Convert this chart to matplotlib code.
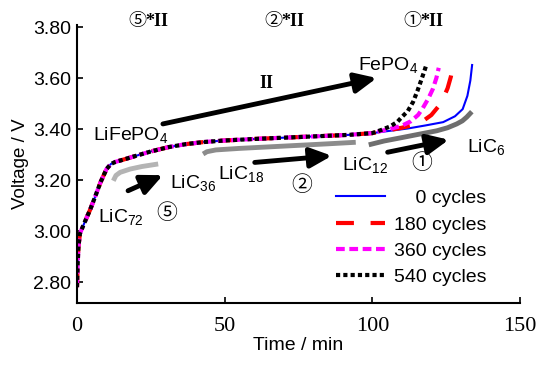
import numpy as np
import matplotlib.pyplot as plt

plt.rcParams['mathtext.fontset'] = 'custom'
plt.rcParams['mathtext.rm'] = 'Liberation Sans'
plt.rcParams['mathtext.it'] = 'Liberation Sans:italic'
plt.rcParams['mathtext.bf'] = 'Liberation Sans:bold'

# charge curves (time in min, voltage in V)
base_t = [0, 0.2, 0.5, 1, 2, 3, 4.5, 6, 8, 10, 11.5, 13, 16, 20, 25, 31, 37, 43, 50, 60, 70,
          80, 92, 100]
base_v = [2.78, 2.86, 2.94, 2.99, 3.018, 3.045, 3.085, 3.13, 3.192, 3.243, 3.263, 3.271, 3.281,
          3.295, 3.312, 3.329, 3.341, 3.349, 3.355, 3.361, 3.366, 3.371, 3.377, 3.384]

tail_t_0 = [106, 112, 118, 124, 128, 130.6, 132.2, 133.2, 133.8]
tail_v_0 = [3.393, 3.402, 3.414, 3.427, 3.45, 3.478, 3.53, 3.59, 3.651]
tail_t_180 = [104, 110, 114, 117, 120, 122.5, 124, 125.5, 126.6, 127.3]
tail_v_180 = [3.392, 3.405, 3.416, 3.43, 3.455, 3.49, 3.52, 3.56, 3.605, 3.648]
tail_t_360 = [102, 106, 110, 113, 115.5, 117, 119, 120.5, 121.7, 122.5]
tail_v_360 = [3.39, 3.40, 3.413, 3.43, 3.455, 3.48, 3.52, 3.557, 3.60, 3.64]
tail_t_540 = [103, 106, 108.5, 110, 112, 113.8, 115.3, 116.7, 117.7, 118.4]
tail_v_540 = [3.396, 3.41, 3.428, 3.447, 3.47, 3.506, 3.55, 3.596, 3.63, 3.655]

labels = ['    0 cycles', '180 cycles', '360 cycles', '540 cycles']

# grey guide curves for the graphite stages
g1_t = [12.3, 13.2, 14.6, 18, 22, 27.5]
g1_v = [3.197, 3.218, 3.230, 3.243, 3.253, 3.263]
g2_t = [42.7, 44, 47, 55, 65, 75, 85, 94.4]
g2_v = [3.302, 3.311, 3.318, 3.324, 3.330, 3.336, 3.342, 3.348]
g3_t = [98.8, 104, 110.3, 116, 121.8, 125.5, 128.6, 130.5, 132, 133.7]
g3_v = [3.338, 3.353, 3.367, 3.380, 3.393, 3.405, 3.420, 3.432, 3.447, 3.468]

# arrows: (start_t, start_v, end_t, end_v)
arrows = [(29.1, 3.420, 101.5, 3.600),
          (17.3, 3.158, 29.1, 3.219),
          (60.2, 3.269, 86.3, 3.295),
          (105.2, 3.309, 125.9, 3.358)]

sans = 'Liberation Sans'
serif = 'Liberation Serif'
circ = ['Noto Sans CJK JP', 'DejaVu Sans']

fig = plt.figure(figsize=(5.41, 3.65), dpi=100)
ax = fig.add_axes([0.1423, 0.170, 0.8188, 0.7616])

for t, v, c in [(g1_t, g1_v, '#b4b4b4'), (g2_t, g2_v, '#8c8c8c'), (g3_t, g3_v, '#6e6e6e')]:
    ax.plot(t, v, color=c, lw=3.5, solid_capstyle='butt')

ax.plot(base_t + tail_t_0, base_v + tail_v_0, color='#0000ff', lw=1.5, label=labels[0])
ax.plot(base_t + tail_t_180, base_v + tail_v_180, color='#ff0000', lw=3,
        linestyle=(0, (4.3, 4.0)), label=labels[1])
ax.plot(base_t + tail_t_360, base_v + tail_v_360, color='#ff00ff', lw=3,
        linestyle=(0, (2.1, 1.1)), label=labels[2])
ax.plot(base_t + tail_t_540, base_v + tail_v_540, color='black', lw=3,
        linestyle=(0, (1, 0.75)), label=labels[3])

for t0, v0, t1, v1 in arrows:
    ax.annotate('', xy=(t1, v1), xytext=(t0, v0),
                arrowprops=dict(arrowstyle='-|>,head_width=0.3,head_length=0.65',
                                lw=3.5, color='black', mutation_scale=20,
                                shrinkA=0, shrinkB=0))

ax.set_xlim(0, 150)
ax.set_ylim(2.718, 3.808)
ax.set_xticks([0, 50, 100, 150])
ax.set_yticks([2.8, 3.0, 3.2, 3.4, 3.6, 3.8])
ax.set_yticklabels(['2.80', '3.00', '3.20', '3.40', '3.60', '3.80'], family=sans, fontsize=14)
ax.set_xticklabels(['0', '50', '100', '150'], family=serif, fontsize=16)
ax.tick_params(direction='in', length=4, width=1.2, pad=4)
ax.tick_params(axis='x', pad=10)
for s in ['top', 'right']:
    ax.spines[s].set_visible(False)
for s in ['left', 'bottom']:
    ax.spines[s].set_linewidth(1.5)
ax.set_xlabel('Time / min', family=sans, fontsize=14, labelpad=1)
ax.set_ylabel('Voltage / V', family=sans, fontsize=13.5, labelpad=3)

# phase labels (baseline positions)
tk = dict(family=sans, fontsize=14, va='baseline')
ax.text(5.4, 3.357, 'LiFePO$_4$', **tk)
ax.text(95.2, 3.632, 'FePO$_4$', **tk)
ax.text(7.1, 3.036, 'LiC$_{72}$', **tk)
ax.text(31.5, 3.169, 'LiC$_{36}$', **tk)
ax.text(47.7, 3.204, 'LiC$_{18}$', **tk)
ax.text(89.7, 3.240, 'LiC$_{12}$', **tk)
ax.text(132, 3.310, 'LiC$_6$', **tk)

ck = dict(family=circ, fontsize=15, ha='center', va='center')
ax.text(30.5, 3.071, '⑤', **ck)
ax.text(76.2, 3.181, '②', **ck)
ax.text(116.8, 3.267, '①', **ck)

ax.text(64, 3.577, 'II', family=serif, fontsize=13, fontweight='bold', ha='center', va='center')

# top labels
for t, s in [(20.5, '⑤'), (66.5, '②'), (113.5, '①')]:
    ax.text(t, 3.822, s, family=circ, fontsize=13, ha='center', va='center')
    ax.text(t + 2.7, 3.822, '*II', family=serif, fontsize=13, fontweight='bold',
            ha='left', va='center')

leg = ax.legend(loc='lower right', bbox_to_anchor=(0.925, 0.06), frameon=False,
                prop={'family': sans, 'size': 14}, handlelength=2.5, handletextpad=0.5,
                labelspacing=0.45, borderpad=0, borderaxespad=0)

fig.savefig('out.png', dpi=100)
